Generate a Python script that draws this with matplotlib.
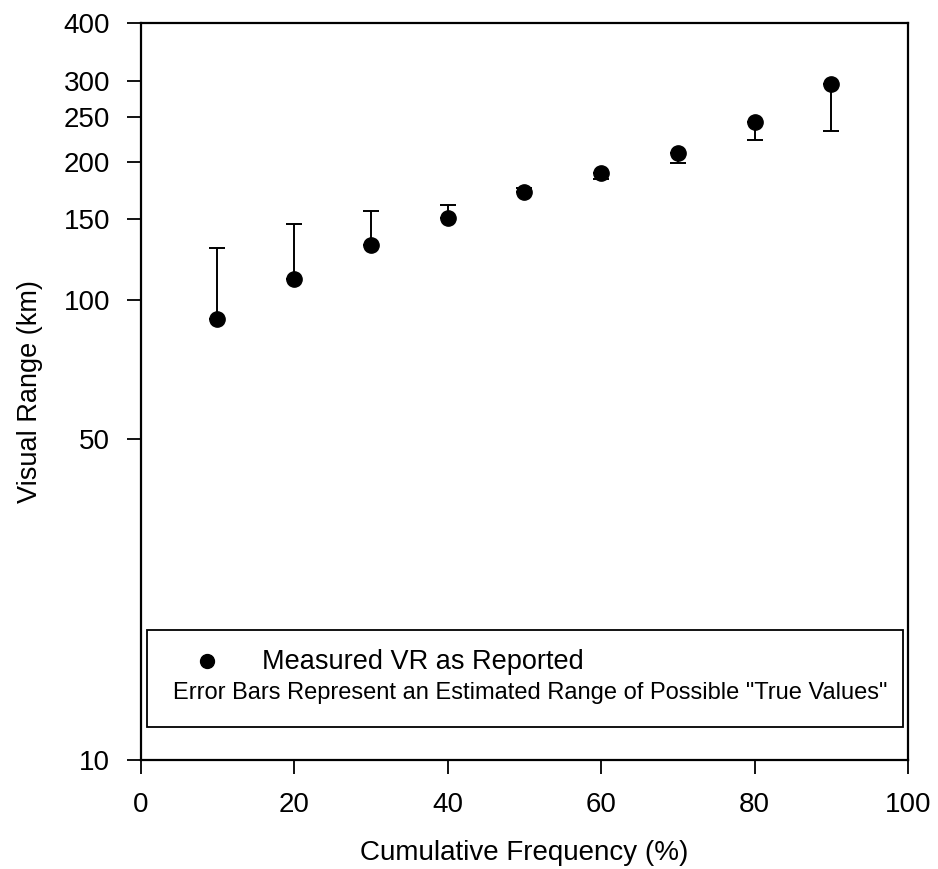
import matplotlib
matplotlib.use("Agg")
import matplotlib.pyplot as plt
import numpy as np
from matplotlib.patches import Rectangle

plt.rcParams["font.family"] = ["Liberation Sans", "DejaVu Sans"]

# cumulative frequency (%) and measured visual range (km)
freq = [10, 20, 30, 40, 50, 60, 70, 80, 90]
vr = [91, 111, 132, 151, 172, 189, 209, 244, 295]
# estimated range of "true" values: error bar extent below / above each point
err_lo = [0, 0, 0, 0, 0, 6, 10, 21, 62]
err_hi = [39, 35, 24, 10, 3, 0, 0, 0, 0]

y_ticks = [10, 50, 100, 150, 200, 250, 300, 400]
x_ticks = [0, 20, 40, 60, 80, 100]

fig = plt.figure(figsize=(9.38, 8.69), dpi=100)
ax = fig.add_axes([0.150, 0.1254, 0.818, 0.848])

ax.errorbar(freq, vr, yerr=[err_lo, err_hi], fmt="o", color="black",
            ms=11, elinewidth=1.4, capsize=6, capthick=1.4)

ax.set_yscale("log")
ax.set_ylim(10, 400)
ax.set_xlim(0, 100)
ax.set_yticks(y_ticks)
ax.set_yticklabels([str(t) for t in y_ticks])
ax.yaxis.set_minor_locator(matplotlib.ticker.NullLocator())
ax.set_xticks(x_ticks)

ax.tick_params(direction="out", length=10, width=1.3, labelsize=20)
ax.tick_params(axis="x", pad=13)
ax.tick_params(axis="y", pad=12)
for s in ax.spines.values():
    s.set_linewidth(1.6)

ax.set_xlabel("Cumulative Frequency (%)", fontsize=20, labelpad=16)
ax.set_ylabel("Visual Range (km)", fontsize=19.5, labelpad=15)

# legend-style box in the lower part of the axes
ax.add_patch(Rectangle((0.008, 0.045), 0.985, 0.131, transform=ax.transAxes,
                       fill=False, edgecolor="black", lw=1.3))
ax.plot([0.087], [0.134], "o", color="black", ms=10, transform=ax.transAxes)
ax.text(0.158, 0.133, "Measured VR as Reported", transform=ax.transAxes,
        fontsize=19.5, va="center", ha="left")
ax.text(0.507, 0.091, 'Error Bars Represent an Estimated Range of Possible "True Values"',
        transform=ax.transAxes, fontsize=17, va="center", ha="center")

fig.savefig("out.png", dpi=100)
